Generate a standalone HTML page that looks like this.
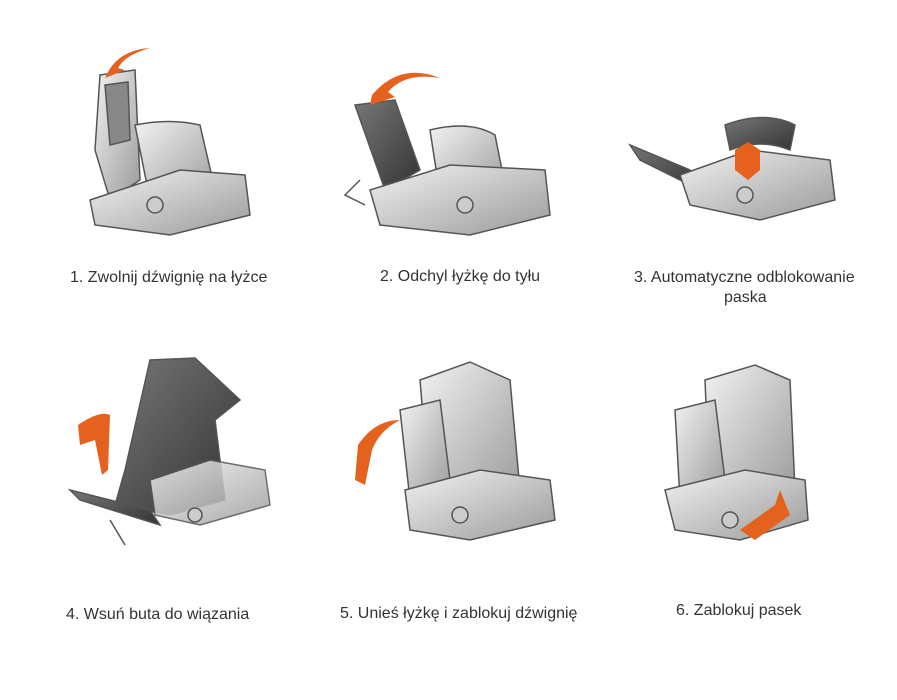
<!DOCTYPE html>
<html><head><meta charset="utf-8"><style>
body{margin:0;width:897px;height:700px;background:#fff;overflow:hidden;position:relative;font-family:"Liberation Sans",sans-serif;}
.t{position:absolute;font-size:16px;color:#333;white-space:nowrap;}
svg{position:absolute;left:0;top:0}
</style></head><body>
<svg width="897" height="700" viewBox="0 0 897 700">
<defs>
<linearGradient id="g" x1="0" y1="0" x2="1" y2="1"><stop offset="0" stop-color="#f2f2f2"/><stop offset="1" stop-color="#9a9a9a"/></linearGradient>
<linearGradient id="d" x1="0" y1="0" x2="1" y2="1"><stop offset="0" stop-color="#777"/><stop offset="1" stop-color="#333"/></linearGradient>
</defs>
<!-- 1 -->
<g stroke="#555" stroke-width="1.5">
<path d="M100 75 L135 70 L140 180 L110 200 L95 150 Z" fill="url(#g)"/>
<path d="M105 85 L128 82 L130 140 L110 145 Z" fill="#888"/>
<path d="M135 125 Q170 118 200 125 L215 190 L150 200 Z" fill="url(#g)"/>
<path d="M90 200 L180 170 L245 175 L250 215 L170 235 L95 225 Z" fill="url(#g)"/>
<circle cx="155" cy="205" r="8" fill="#ccc"/>
</g>
<path d="M108 72 Q120 50 150 48 Q125 55 118 68 L125 70 L105 78 Z" fill="#e4621e"/>
<!-- 2 -->
<g stroke="#555" stroke-width="1.5">
<path d="M355 105 L395 100 L420 170 L385 190 Z" fill="url(#d)"/>
<path d="M430 130 Q470 120 495 135 L505 185 L440 195 Z" fill="url(#g)"/>
<path d="M370 190 L450 165 L545 170 L550 215 L470 235 L380 225 Z" fill="url(#g)"/>
<path d="M360 180 L345 195 L365 205" fill="none"/>
<circle cx="465" cy="205" r="8" fill="#ccc"/>
</g>
<path d="M372 95 Q400 62 440 78 Q405 72 388 92 L395 97 L370 105 Z" fill="#e4621e"/>
<!-- 3 -->
<g stroke="#555" stroke-width="1.5">
<path d="M630 145 L690 170 L700 190 L640 160 Z" fill="url(#d)"/>
<path d="M725 125 Q765 110 795 125 L790 150 Q760 138 730 150 Z" fill="url(#d)"/>
<path d="M680 175 L750 150 L830 160 L835 200 L760 220 L690 205 Z" fill="url(#g)"/>
<circle cx="745" cy="195" r="8" fill="#ccc"/>
</g>
<path d="M735 150 L748 142 L760 150 L760 170 L748 180 L735 170 Z" fill="#e4621e"/>
<!-- 4 -->
<g stroke="#555" stroke-width="1.5">
<path d="M150 360 L195 358 L240 400 L215 420 L225 500 L170 515 L115 505 L125 470 Z" fill="url(#d)"/>
<path d="M70 490 L150 510 L160 525 L80 500 Z" fill="url(#d)"/>
<path d="M150 480 L210 460 L265 470 L270 505 L200 525 L155 515 Z" fill="url(#g)" opacity=".85"/>
<path d="M110 520 L125 545" fill="none"/>
<circle cx="195" cy="515" r="7" fill="#ccc"/>
</g>
<path d="M78 425 Q100 410 110 415 L108 470 L102 475 L95 440 L80 445 Z" fill="#e4621e"/>
<!-- 5 -->
<g stroke="#555" stroke-width="1.5">
<path d="M420 380 L470 362 L510 380 L520 490 L430 500 Z" fill="url(#g)"/>
<path d="M400 410 L440 400 L450 480 L410 500 Z" fill="url(#g)"/>
<path d="M405 490 L480 470 L550 480 L555 520 L470 540 L410 530 Z" fill="url(#g)"/>
<circle cx="460" cy="515" r="8" fill="#ccc"/>
</g>
<path d="M358 445 Q375 420 400 420 Q380 430 372 450 L365 485 L355 480 Z" fill="#e4621e"/>
<!-- 6 -->
<g stroke="#555" stroke-width="1.5">
<path d="M705 380 L755 365 L790 380 L795 490 L710 500 Z" fill="url(#g)"/>
<path d="M675 410 L715 400 L725 480 L680 500 Z" fill="url(#g)"/>
<path d="M665 490 L745 470 L805 480 L808 520 L740 540 L675 530 Z" fill="url(#g)"/>
<circle cx="730" cy="520" r="8" fill="#ccc"/>
</g>
<path d="M740 530 L775 505 L780 490 L790 515 L755 540 Z" fill="#e4621e"/>
</svg>
<div class="t" style="left:70px;top:269px">1. Zwolnij dźwignię na łyżce</div>
<div class="t" style="left:380px;top:268px">2. Odchyl łyżkę do tyłu</div>
<div class="t" style="left:634px;top:269px">3. Automatyczne odblokowanie</div>
<div class="t" style="left:724px;top:289px">paska</div>
<div class="t" style="left:66px;top:606px">4. Wsuń buta do wiązania</div>
<div class="t" style="left:340px;top:605px">5. Unieś łyżkę i zablokuj dźwignię</div>
<div class="t" style="left:676px;top:602px">6. Zablokuj pasek</div>
</body></html>
